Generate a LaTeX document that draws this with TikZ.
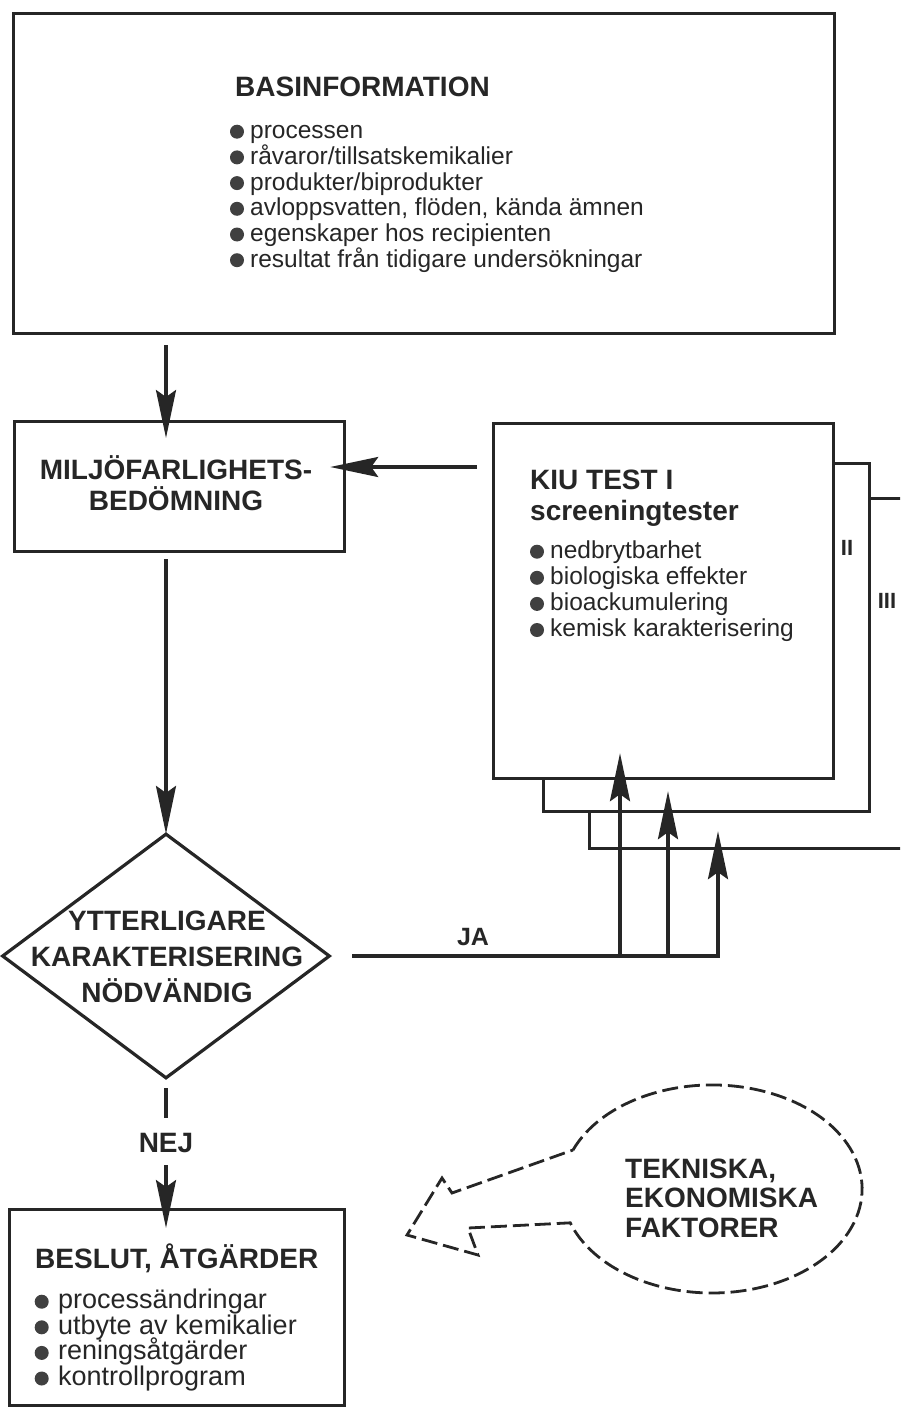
\documentclass[tikz,border=0pt]{standalone}
\usepackage{fontspec}
\setmainfont{Liberation Sans}
\usetikzlibrary{arrows.meta,shapes.geometric,calc}

\tikzset{
  boks/.style={draw=black!85, line width=3.2pt, fill=white, rectangle, inner sep=0pt, anchor=north west},
  linje/.style={draw=black!85, line width=3.2pt},
  pil/.style={draw=black!85, fill=black!85, line width=3.2pt, -{Stealth[length=48pt,width=20pt,inset=7pt]}},
  streck/.style={draw=black!85, line width=2.8pt, dash pattern=on 16pt off 6pt},
  rubrik/.style={font=\fontsize{28}{31}\selectfont\bfseries, text=black!85, inner sep=0pt},
  punkt/.style={font=\fontsize{24.5}{26}\selectfont, text=black!85, inner sep=0pt, anchor=base west},
  prick/.style={fill=black!75},
}

\begin{document}
\begin{tikzpicture}[x=1pt,y=-1pt]
            \useasboundingbox (0,0) rectangle (900,1407);
            \clip (0,0) rectangle (900,1407);

            % Boxes
            \node[boks, minimum width=821pt, minimum height=320pt] (basinfo) at (12,12) {};
            \node[boks, minimum width=330pt, minimum height=130pt] (miljo) at (13,420) {};
            \node[boks, minimum width=360pt, minimum height=350pt] (kiu3) at (588,497) {};
            \node[boks, minimum width=326pt, minimum height=348pt] (kiu2) at (542,462) {};
            \node[boks, minimum width=340pt, minimum height=355pt] (kiu1) at (492,422) {};
            \node[boks, minimum width=335pt, minimum height=196pt] (beslut) at (8,1208) {};
            \node[draw=black!85, line width=3.2pt, shape=diamond, inner sep=0pt,
                  minimum width=328pt, minimum height=245pt] (dia) at (166,956) {};

            % Texts in the boxes
            \node[rubrik, anchor=base west] (basrubrik) at (235,97) {BASINFORMATION};
            \foreach \t [count=\i from 0] in {processen, råvaror/tillsatskemikalier,
                produkter/biprodukter, {avloppsvatten, flöden, kända ämnen},
                egenskaper hos recipienten, resultat från tidigare undersökningar} {
              \fill[prick] (237,131.7+25.7*\i) circle (7);
              \node[punkt] (bas\i) at (250,138.7+25.7*\i) {\t};
            }

            \node[rubrik, align=center, anchor=base] (miljotext) at (176,510) {MILJÖFARLIGHETS-\\BEDÖMNING};

            \node[rubrik, align=left, anchor=base west] (kiurubrik) at (530,520) {KIU TEST I\\screeningtester};
            \foreach \t [count=\i from 0] in {nedbrytbarhet, biologiska effekter,
                bioackumulering, kemisk karakterisering} {
              \fill[prick] (537,551.7+26.1*\i) circle (7);
              \node[punkt] (kiup\i) at (550,558.2+26.1*\i) {\t};
            }
            \node[font=\fontsize{22}{24}\selectfont\bfseries, text=black!85, inner sep=0pt, anchor=base] (nrII) at (847,555) {II};
            \node[font=\fontsize{22}{24}\selectfont\bfseries, text=black!85, inner sep=0pt, anchor=base] (nrIII) at (887,608) {III};

            \node[rubrik, align=center, anchor=base, font=\fontsize{28}{36}\selectfont\bfseries] (diatext) at (167,1002) {YTTERLIGARE\\KARAKTERISERING\\NÖDVÄNDIG};

            \node[rubrik, anchor=base west] (beslutrubrik) at (35,1268) {BESLUT, ÅTGÄRDER};
            \foreach \t [count=\i from 0] in {processändringar, utbyte av kemikalier,
                reningsåtgärder, kontrollprogram} {
              \fill[prick] (41.7,1301.7+25.6*\i) circle (7);
              \node[punkt, font=\fontsize{27}{28}\selectfont] (besl\i) at (58,1308.7+25.6*\i) {\t};
            }

            % Arrows
            \draw[pil, shorten <=10pt, shorten >=-18pt] (basinfo.south -| dia.north) -- (miljo.north -| dia.north);
            \draw[pil, shorten <=15pt, shorten >=-16pt] ($(kiu1.north west)+(0,45)$) -- ($(miljo.north east)+(0,47)$);
            \draw[pil, shorten <=6pt, shorten >=-2pt] (miljo.south -| dia.north) -- (dia.north);

            % JA
            \coordinate (ja1) at (620,956);
            \coordinate (ja2) at (668,956);
            \coordinate (ja3) at (718,956);
            \draw[linje, line cap=rect, shorten <=22pt] (dia.east) -- (ja3);
            \node[rubrik, font=\fontsize{25}{27}\selectfont\bfseries, anchor=base] (ja) at (473,945) {JA};
            \draw[pil, shorten >=-27pt] (ja1) -- (ja1 |- kiu1.south);
            \draw[pil, shorten >=-22pt] (ja2) -- (ja2 |- kiu2.south);
            \draw[pil, shorten >=-19pt] (ja3) -- (ja3 |- kiu3.south);

            % NEJ
            \node[rubrik, anchor=base] (nej) at (166,1152) {NEJ};
            \draw[linje, shorten <=8pt, shorten >=15pt] (dia.south) -- (nej.north);
            \draw[pil, shorten <=13pt, shorten >=-20pt] (nej.south) -- (beslut.north -| nej.south);

            % Dashed balloon
            \draw[streck] (573,1150) arc[start angle=-158, end angle=161, x radius=150, y radius=104]
                -- (468,1228) -- (478,1255) -- (407,1235) -- (442,1178) -- (452,1193) -- cycle;
            \node[rubrik, align=left, anchor=base west, font=\fontsize{28}{29.5}\selectfont\bfseries] (faktorer) at (625,1237) {TEKNISKA,\\EKONOMISKA\\FAKTORER};
        \end{tikzpicture}
\end{document}
